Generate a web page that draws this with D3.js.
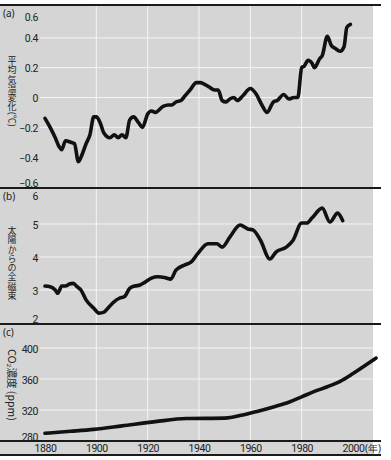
<!DOCTYPE html>
<html>
<head>
<meta charset="utf-8">
<script src="https://cdn.jsdelivr.net/npm/d3@7"></script>
<style>
  html, body { margin: 0; padding: 0; background: #fff; }
  body { position: relative; width: 391px; height: 460px; }
  svg { display: block; }
  .tick text { font-family: Roboto, "Noto Sans", sans-serif; font-size: 10.5px; letter-spacing: -0.45px; fill: #222; }
  .ylab { font-family: "Noto Sans CJK JP", sans-serif; font-size: 9px; fill: #222; }
  .vlab {
    position: absolute; writing-mode: vertical-rl; text-orientation: mixed;
    font-family: "Noto Sans CJK JP", sans-serif; font-size: 9px; line-height: 12px;
    letter-spacing: 0.3px; color: #222; white-space: nowrap;
  }
  .vlab .side { text-orientation: sideways; letter-spacing: 0; }
  .plab { font-family: "Noto Sans", sans-serif; font-size: 10px; fill: #222; }
</style>
</head>
<body>
<svg id="chart" width="391" height="460"></svg>
<script>
  "use strict";

  // (a) global mean temperature change (deg C)
  const tempYears = [1880, 1882, 1884, 1885.5, 1886.5, 1888, 1890, 1891.5, 1893, 1894.5, 1896, 1897.5, 1899, 1900, 1901.5,
    1903, 1905.3, 1907, 1908.5, 1910, 1911.5, 1913, 1914.5, 1916.5, 1918, 1920, 1921.5, 1923, 1926, 1928, 1929.5,
    1931, 1933, 1934.5, 1936.5, 1939, 1940.5, 1942, 1944, 1946, 1947.5, 1949, 1950.5, 1952, 1953.5, 1955, 1957,
    1960, 1962, 1964.5, 1966.5, 1969, 1970.5, 1973, 1975, 1977, 1978.5, 1980, 1981, 1982.5, 1984, 1985, 1987,
    1988, 1990, 1991.5, 1993, 1995, 1996.5, 1997.6, 1999];
  const tempVals = [-0.14, -0.2, -0.27, -0.33, -0.35, -0.29, -0.3, -0.31, -0.43, -0.38, -0.31, -0.25, -0.13, -0.13, -0.17,
    -0.24, -0.27, -0.25, -0.27, -0.25, -0.27, -0.15, -0.13, -0.17, -0.2, -0.11, -0.09, -0.1, -0.06, -0.05, -0.05,
    -0.03, -0.02, 0.01, 0.05, 0.1, 0.1, 0.09, 0.07, 0.05, 0.05, -0.02, -0.03, -0.01, 0.0, -0.02, 0.01,
    0.06, 0.03, -0.05, -0.1, -0.03, -0.02, 0.02, -0.01, 0.0, 0.0, 0.2, 0.21, 0.25, 0.23, 0.2, 0.26,
    0.28, 0.41, 0.35, 0.33, 0.31, 0.34, 0.47, 0.49];

  // (b) total solar magnetic flux
  const fluxYears = [1880, 1882, 1884, 1885, 1886.5, 1888, 1889.5, 1891, 1892.5, 1894, 1896, 1899, 1901, 1903, 1904.5,
    1907, 1909, 1911, 1913, 1915, 1917, 1919, 1921.5, 1924, 1926.5, 1929, 1931, 1934.5, 1937, 1939.5, 1943.5,
    1947, 1949, 1952, 1956, 1959, 1961, 1964, 1967.6, 1970, 1974, 1976.6, 1980, 1982, 1984, 1988, 1991, 1994, 1996];
  const fluxVals = [3.12, 3.1, 3.0, 2.9, 3.12, 3.12, 3.18, 3.2, 3.1, 3.0, 2.7, 2.45, 2.3, 2.33, 2.45,
    2.65, 2.75, 2.8, 3.05, 3.12, 3.15, 3.24, 3.36, 3.4, 3.38, 3.33, 3.6, 3.76, 3.85, 4.1, 4.4,
    4.4, 4.3, 4.6, 4.97, 4.85, 4.82, 4.5, 3.94, 4.15, 4.3, 4.5, 5.03, 5.03, 5.18, 5.48, 5.06, 5.33, 5.1];

  // (c) CO2 concentration (ppm)
  const co2Years = [1880, 1890, 1899, 1910, 1923, 1935, 1950, 1957, 1963, 1969, 1975, 1980, 1985, 1990, 1995, 2000, 2005, 2009];
  const co2Vals = [290, 292.5, 295, 299.5, 305, 309, 309.5, 313.5, 318.5, 324, 330, 337, 344, 350, 357, 367, 378, 387];

  const xTicks = [1880, 1900, 1920, 1940, 1960, 1980, 2000];
  const tempTicks = [-0.6, -0.4, -0.2, 0, 0.2, 0.4, 0.6];
  const fluxTicks = [2, 3, 4, 5, 6];
  const co2Ticks = [280, 320, 360, 400];

  const svg = d3.select("#chart");

  const x = d3.scaleLinear().domain([1880, 2000]).range([45, 353]);

  // background
  svg.append("rect").attr("x", 0).attr("y", 5).attr("width", 373).attr("height", 450).attr("fill", "#d5d5d5");

  const panels = [
    { key: "a", top: 5, bottom: 188, y: d3.scaleLinear().domain([-0.6, 0.6]).range([187, 8]),
      ticks: tempTicks, grid: [-0.2, 0, 0.2, 0.4], years: tempYears, vals: tempVals,
      fmt: (d) => (d === 0 ? "0" : d3.format(".1f")(d).replace("-", "\u2212")),
      vtext: "平均気温変化", vside: "(℃)", vtop: 55.5, nudge: { "0.6": 8, "-0.6": -5 } },
    { key: "b", top: 188, bottom: 324, y: d3.scaleLinear().domain([2, 6]).range([323, 191]),
      ticks: fluxTicks, grid: [3, 4, 5], years: fluxYears, vals: fluxVals,
      fmt: (d) => String(d), vtext: "太陽からの全磁束", vtop: 225.5, nudge: { "6": 4, "2": -5 } },
    { key: "c", top: 324, bottom: 441, y: d3.scaleLinear().domain([280, 400]).range([441, 348]),
      ticks: co2Ticks, grid: [320, 360, 400], years: co2Years, vals: co2Vals,
      fmt: (d) => String(d), rotated: "CO₂濃度 (ppm)", rotY: 385, nudge: { "280": -5 } },
  ];

  panels.forEach((p) => {
    const g = svg.append("g").attr("class", "panel-" + p.key);

    // white grid
    g.selectAll("line.hgrid").data(p.grid).enter().append("line")
      .attr("class", "hgrid")
      .attr("x1", 40).attr("x2", 373)
      .attr("y1", (d) => p.y(d)).attr("y2", (d) => p.y(d))
      .attr("stroke", "#f4f4f4").attr("stroke-width", 1);
    g.selectAll("line.vgrid").data(xTicks.slice(1, -1)).enter().append("line")
      .attr("class", "vgrid")
      .attr("x1", (d) => x(d)).attr("x2", (d) => x(d))
      .attr("y1", p.top + 1).attr("y2", p.bottom - 1)
      .attr("stroke", "#f4f4f4").attr("stroke-width", 1);

    // y tick labels
    const axis = d3.axisLeft(p.y).tickValues(p.ticks).tickSize(0).tickPadding(0).tickFormat(p.fmt);
    const ag = g.append("g").attr("transform", "translate(38,0)").call(axis);
    ag.select(".domain").remove();
    ag.selectAll(".tick text")
      .attr("dy", (d) => 4 + (p.nudge[String(d)] || 0));

    // panel letter
    g.append("text").attr("class", "plab")
      .attr("x", 3).attr("y", p.top + 12)
      .text("(" + p.key + ")");

    // vertical axis title (Japanese, top to bottom)
    if (p.vtext) {
      const div = d3.select("body").append("div").attr("class", "vlab")
        .style("left", "5.5px").style("top", p.vtop + "px");
      div.append("span").text(p.vtext);
      if (p.vside) div.append("span").attr("class", "side").text(p.vside);
    }
    if (p.rotated) {
      g.append("text").attr("class", "ylab")
        .attr("transform", `translate(12,${p.rotY}) rotate(90)`)
        .attr("text-anchor", "middle")
        .attr("dominant-baseline", "central")
        .style("font-size", "10.5px")
        .text(p.rotated);
    }

    // series
    const pts = p.years.map((yr, i) => [yr, p.vals[i]]);
    const line = d3.line().x((d) => x(d[0])).y((d) => p.y(d[1])).curve(d3.curveMonotoneX);
    g.append("path")
      .datum(pts)
      .attr("d", line)
      .attr("fill", "none")
      .attr("stroke", "#111")
      .attr("stroke-width", 3.6)
      .attr("stroke-linejoin", "round")
      .attr("stroke-linecap", "round");
  });

  // x axis labels
  const xa = svg.append("g").attr("transform", "translate(0,441)")
    .call(d3.axisBottom(x).tickValues(xTicks).tickSize(0).tickPadding(0).tickFormat(d3.format("d")));
  xa.select(".domain").remove();
  xa.selectAll(".tick text").attr("dy", 10.5).attr("y", 0);
  svg.append("text").attr("class", "plab")
    .attr("x", 365).attr("y", 451.5)
    .attr("font-size", 8.5)
    .attr("font-family", "Noto Sans CJK JP, sans-serif")
    .text("(年)");

  // black panel rules
  const rules = [5, 188, 324, 441, 455];
  svg.selectAll("line.rule").data(rules).enter().append("line")
    .attr("class", "rule")
    .attr("x1", 0).attr("x2", 381)
    .attr("y1", (d) => d).attr("y2", (d) => d)
    .attr("stroke", "#1a1a1a").attr("stroke-width", 2);
</script>
</body>
</html>
